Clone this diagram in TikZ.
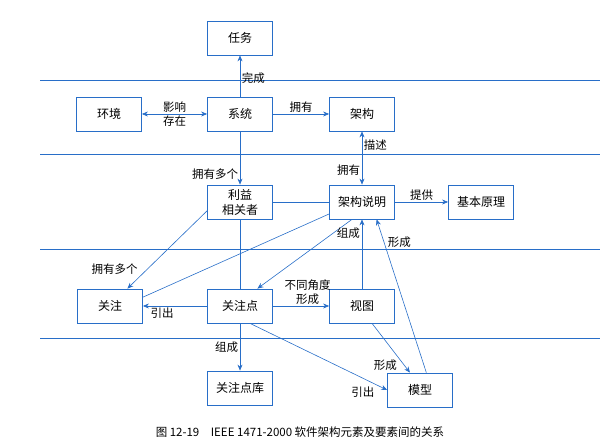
\documentclass[tikz,border=0pt]{standalone}
\usepackage{fontspec}
\setmainfont{Liberation Serif}
\newfontfamily\cjk{Noto Sans CJK SC}
\usetikzlibrary{arrows.meta}
\definecolor{lineblue}{RGB}{40,110,200}
\tikzset{
  box/.style={draw=lineblue,thick,fill=white,text=black,minimum width=65pt,minimum height=34pt,align=center,font=\cjk\fontsize{12}{15}\selectfont,inner sep=1pt},
  lbl/.style={font=\cjk\fontsize{11.5}{14}\selectfont,inner sep=1.5pt,text=black}
}
\begin{document}
\begin{tikzpicture}[x=1pt,y=-1pt,>={Stealth[length=6pt,width=5pt]},lineblue,semithick]
\useasboundingbox (0,0) rectangle (616,446);
% layer lines
\foreach \yy in {80,154,249,338}
  \draw (40,\yy) -- (600,\yy);
\node[box] (task) at (240,38) {任务};
\node[box] (env) at (109,114) {环境};
\node[box] (sys) at (240,114) {系统};
\node[box] (arch) at (362,114) {架构};
\node[box] (stake) at (240,202) {利益\\相关者};
\node[box] (desc) at (362,202) {架构说明};
\node[box] (rat) at (481,202) {基本原理};
\node[box] (conc) at (110,306) {关注};
\node[box] (view) at (240,306) {关注点};
\node[box] (vpt) at (362,306) {视图};
\node[box] (lib) at (240,388) {关注点库};
\node[box] (model) at (420,390) {模型};

\draw[->] (sys) -- node[lbl,right,pos=.45] {完成} (task);
\draw[<->] (env) -- node[lbl,above] {影响} node[lbl,below] {存在} (sys);
\draw[->] (sys) -- node[lbl,above] {拥有} (arch);
\draw[->] (sys) -- node[lbl,left,pos=.8] {拥有多个} (stake);
\draw[<->] (arch) -- node[lbl,right,pos=.25] {描述} node[lbl,left,pos=.72] {拥有} (desc);
\draw (stake) -- (desc);
\draw[->] (desc) -- node[lbl,above] {提供} (rat);
\draw[->] (stake.195) -- node[lbl,left,pos=.75,xshift=-8pt] {拥有多个} (conc.45);
\draw (desc.200) -- (conc.15);
\draw[->] (desc.240) -- node[lbl,right,pos=.2,xshift=2pt] {组成} (view.45);
\draw (stake) -- (view);
\draw[->] (view) -- node[lbl,below,pos=.7] {引出} (conc);
\draw[->] (view) -- node[lbl,above,align=center,pos=.62] {不同角度\\形成} (vpt);
\draw[->] (vpt) -- (desc);
\draw[->] (view) -- node[lbl,left] {组成} (lib);
\draw[->] (view.300) -- node[lbl,below left,pos=.92] {引出} (model.180);
\draw[->] (vpt.300) -- node[lbl,below left,pos=.7] {形成} (model.120);
\draw[->] (model.70) -- node[lbl,right,pos=.85,xshift=2pt] {形成} (desc.310);

\node[text=black,font=\cjk\fontsize{11.5}{14}\selectfont] (cap) at (300,432) {图 12-19\quad IEEE 1471-2000 软件架构元素及要素间的关系};
\end{tikzpicture}
\end{document}
